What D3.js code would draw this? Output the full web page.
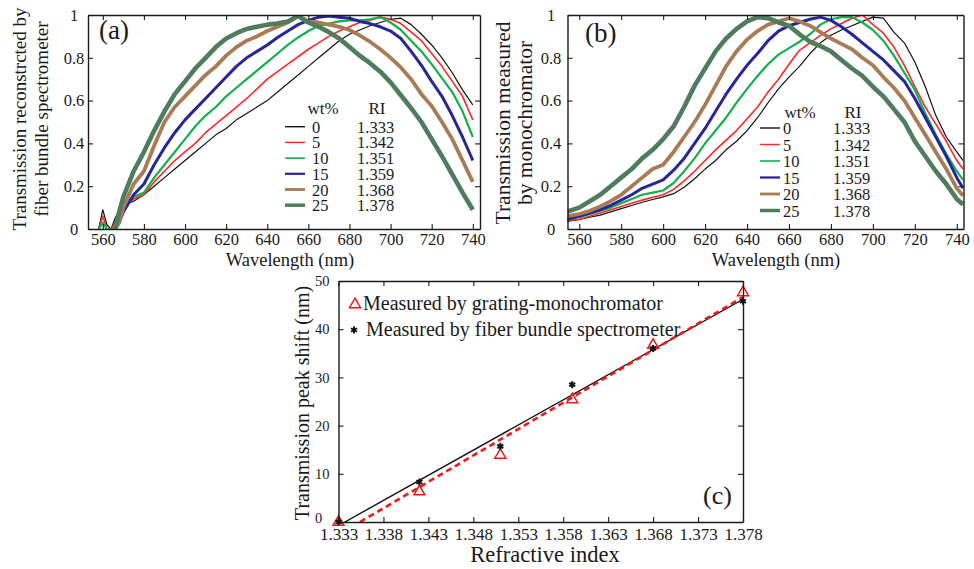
<!DOCTYPE html>
<html>
<head>
<meta charset="utf-8">
<script src="https://cdn.jsdelivr.net/npm/d3@7/dist/d3.min.js"></script>
<style>
  html, body { margin: 0; padding: 0; background: #fff; }
  svg { display: block; }
</style>
</head>
<body>
<svg id="fig" width="974" height="569"></svg>
<script>
// ---------------- data ----------------
// (a) transmission reconstructed by the fiber bundle spectrometer
const wavelengthFiber = [558, 560, 562, 564, 566, 568, 570, 575, 580, 585, 590, 595, 600, 605, 610, 615,
  620, 625, 630, 635, 640, 645, 650, 655, 660, 665, 670, 675, 680, 685, 690, 695, 700, 705, 710, 715,
  720, 725, 730, 735, 740];
const fiber0  = [0, 0.09, 0.02, 0, 0.05, 0.09, 0.11, 0.13, 0.16, 0.20, 0.24, 0.28, 0.32, 0.36, 0.40, 0.44, 0.47,
  0.51, 0.54, 0.57, 0.60, 0.64, 0.68, 0.72, 0.76, 0.80, 0.84, 0.88, 0.91, 0.93, 0.95, 0.965, 0.98, 0.985, 0.955,
  0.91, 0.86, 0.80, 0.73, 0.65, 0.58];
const fiber5  = [0, 0.06, 0, 0, 0.03, 0.07, 0.10, 0.14, 0.16, 0.22, 0.27, 0.32, 0.36, 0.40, 0.45, 0.49, 0.53,
  0.57, 0.61, 0.655, 0.70, 0.735, 0.77, 0.805, 0.84, 0.87, 0.90, 0.925, 0.945, 0.965, 0.975, 0.99, 0.98, 0.96,
  0.92, 0.88, 0.82, 0.76, 0.69, 0.62, 0.51];
const fiber10 = [0, 0.03, 0, 0, 0, 0.04, 0.10, 0.15, 0.17, 0.24, 0.30, 0.36, 0.42, 0.48, 0.53, 0.57, 0.62,
  0.66, 0.70, 0.74, 0.78, 0.82, 0.86, 0.895, 0.925, 0.95, 0.96, 0.97, 0.975, 0.975, 0.98, 0.99, 0.965, 0.93,
  0.88, 0.83, 0.77, 0.705, 0.64, 0.55, 0.43];
const fiber15 = [null, null, null, null, 0, 0.03, 0.08, 0.16, 0.21, 0.30, 0.38, 0.45, 0.51, 0.56, 0.61, 0.66,
  0.71, 0.76, 0.80, 0.83, 0.86, 0.895, 0.925, 0.955, 0.975, 0.99, 0.995, 0.99, 0.985, 0.97, 0.96, 0.945, 0.925,
  0.89, 0.83, 0.765, 0.69, 0.62, 0.53, 0.43, 0.32];
const fiber20 = [null, null, null, null, 0, 0.03, 0.10, 0.21, 0.27, 0.39, 0.50, 0.57, 0.62, 0.67, 0.72, 0.76,
  0.81, 0.85, 0.88, 0.90, 0.925, 0.945, 0.965, 0.995, 0.97, 0.965, 0.955, 0.945, 0.93, 0.905, 0.875, 0.84, 0.80,
  0.755, 0.70, 0.63, 0.575, 0.50, 0.42, 0.32, 0.22];
const fiber25 = [null, null, null, null, 0, 0.08, 0.15, 0.27, 0.36, 0.46, 0.55, 0.63, 0.69, 0.75, 0.80, 0.85,
  0.89, 0.915, 0.935, 0.945, 0.955, 0.96, 0.97, 0.995, 0.965, 0.945, 0.92, 0.89, 0.85, 0.81, 0.775, 0.735, 0.685,
  0.625, 0.565, 0.50, 0.42, 0.34, 0.255, 0.17, 0.09];

// (b) transmission measured by the grating monochromator
const wavelengthMono = [554, 560, 565, 570, 575, 580, 585, 590, 595, 600, 605, 610, 615, 620, 625, 630, 635,
  640, 645, 650, 655, 660, 665, 670, 675, 680, 685, 690, 695, 700, 705, 710, 715, 720, 725, 730, 735, 740, 743];
const mono0  = [0.035, 0.045, 0.055, 0.065, 0.08, 0.095, 0.11, 0.125, 0.138, 0.15, 0.165, 0.195, 0.235, 0.28,
  0.32, 0.37, 0.41, 0.46, 0.52, 0.59, 0.655, 0.71, 0.76, 0.82, 0.87, 0.905, 0.93, 0.95, 0.97, 0.99, 0.985, 0.92,
  0.87, 0.78, 0.665, 0.53, 0.43, 0.36, 0.32];
const mono5  = [0.04, 0.045, 0.06, 0.075, 0.09, 0.105, 0.12, 0.135, 0.148, 0.16, 0.185, 0.225, 0.27, 0.32,
  0.37, 0.415, 0.46, 0.515, 0.57, 0.64, 0.70, 0.77, 0.835, 0.87, 0.905, 0.935, 0.96, 0.985, 1.0, 0.955, 0.915,
  0.85, 0.765, 0.665, 0.57, 0.49, 0.41, 0.32, 0.28];
const mono10 = [0.045, 0.055, 0.07, 0.085, 0.10, 0.12, 0.14, 0.16, 0.17, 0.18, 0.215, 0.27, 0.33, 0.40, 0.46,
  0.52, 0.59, 0.655, 0.715, 0.77, 0.815, 0.845, 0.875, 0.91, 0.955, 0.98, 0.99, 0.99, 0.965, 0.93, 0.88, 0.81,
  0.73, 0.65, 0.54, 0.44, 0.35, 0.27, 0.23];
const mono15 = [0.045, 0.06, 0.075, 0.09, 0.11, 0.135, 0.16, 0.19, 0.21, 0.23, 0.275, 0.33, 0.40, 0.47, 0.55,
  0.63, 0.70, 0.765, 0.82, 0.88, 0.925, 0.95, 0.965, 0.98, 0.99, 0.975, 0.945, 0.91, 0.87, 0.83, 0.79, 0.74,
  0.69, 0.61, 0.52, 0.43, 0.34, 0.24, 0.19];
const mono20 = [0.06, 0.07, 0.085, 0.105, 0.13, 0.16, 0.20, 0.24, 0.28, 0.30, 0.36, 0.43, 0.50, 0.58, 0.67,
  0.76, 0.83, 0.885, 0.925, 0.955, 0.97, 0.985, 0.97, 0.95, 0.92, 0.89, 0.865, 0.84, 0.80, 0.765, 0.71, 0.66,
  0.60, 0.52, 0.44, 0.36, 0.28, 0.19, 0.155];
const mono25 = [0.08, 0.10, 0.13, 0.16, 0.20, 0.24, 0.28, 0.33, 0.37, 0.42, 0.48, 0.57, 0.67, 0.75, 0.83,
  0.89, 0.935, 0.97, 0.99, 0.985, 0.965, 0.95, 0.91, 0.875, 0.855, 0.83, 0.79, 0.75, 0.715, 0.665, 0.62, 0.56,
  0.50, 0.41, 0.34, 0.27, 0.21, 0.14, 0.115];

// legend entries shared by (a) and (b)
const sugarWt = ["0", "5", "10", "15", "20", "25"];
const riLabels = ["1.333", "1.342", "1.351", "1.359", "1.368", "1.378"];

// (c) peak shift versus refractive index
const refractiveIndex = [1.333, 1.342, 1.351, 1.359, 1.368, 1.378];
const shiftMono  = [0, 6.3, 13.9, 25.4, 36.7, 47.6];
const shiftFiber = [0, 8.3, 15.7, 28.5, 36.0, 45.8];

// tick labels
const wlTicks = [560, 580, 600, 620, 640, 660, 680, 700, 720, 740];
const transTicks = [0, 0.2, 0.4, 0.6, 0.8, 1];
const riTicks = [1.333, 1.338, 1.343, 1.348, 1.353, 1.358, 1.363, 1.368, 1.373, 1.378];
const shiftTicks = [0, 10, 20, 30, 40, 50];

// ---------------- drawing ----------------
const SERIF = "'Liberation Serif', 'Times New Roman', 'DejaVu Serif', serif";
const INK = "#1a1a1a";
const svg = d3.select("#fig");

const curveColors = ["#111111", "#ff2626", "#14b04e", "#25259c", "#a97b55", "#4e7c5d"];
const curveWidths = [1.2, 1.6, 2.2, 3.0, 3.8, 4.6];

const boxA = {left: 88, right: 480, top: 15, bottom: 229};
const boxB = {left: 567.5, right: 963.5, top: 15, bottom: 229};
const boxC = {left: 338.5, right: 743, top: 281, bottom: 522};

function addClip(id, p) {
  svg.append("clipPath").attr("id", id).append("rect")
    .attr("x", p.left).attr("y", p.top)
    .attr("width", p.right - p.left).attr("height", p.bottom - p.top);
}

function drawAxes(p, x, y, o) {
  const g = svg.append("g");
  const tk = o.tick;
  const bottom = g.append("g").attr("transform", `translate(0,${p.bottom})`)
    .call(d3.axisBottom(x).tickValues(o.xTicks).tickFormat(o.xFormat)
      .tickSizeInner(-tk).tickSizeOuter(0).tickPadding(o.xPad));
  bottom.attr("font-size", o.xFont).attr("font-family", SERIF);
  g.append("g").attr("transform", `translate(0,${p.top})`)
    .call(d3.axisTop(x).tickValues(o.xTicks).tickFormat(() => "")
      .tickSizeInner(-tk).tickSizeOuter(0));
  const left = g.append("g").attr("transform", `translate(${p.left},0)`)
    .call(d3.axisLeft(y).tickValues(o.yTicks).tickFormat(o.yFormat)
      .tickSizeInner(-tk).tickSizeOuter(0));
  left.attr("font-size", o.yFont).attr("font-family", SERIF);
  left.selectAll(".tick text").attr("text-anchor", o.yAnchor).attr("x", o.yLabelX - p.left);
  g.append("g").attr("transform", `translate(${p.right},0)`)
    .call(d3.axisRight(y).tickValues(o.yTicks).tickFormat(() => "")
      .tickSizeInner(-tk).tickSizeOuter(0));
  g.selectAll(".domain").attr("stroke", INK).attr("stroke-width", 1.4);
  g.selectAll(".tick line").attr("stroke", INK).attr("stroke-width", 1.1);
  g.selectAll(".tick text").attr("fill", INK);
  return {bottom, left};
}

function label(x, y, txt, size, anchor, rotate) {
  const t = svg.append("text")
    .attr("font-family", SERIF).attr("font-size", size).attr("fill", INK)
    .attr("text-anchor", anchor || "middle").text(txt);
  if (rotate) {
    t.attr("transform", `translate(${x},${y}) rotate(-90)`).attr("dy", "0.35em");
  } else {
    t.attr("x", x).attr("y", y);
  }
  return t;
}

function spectrumPanel(p, clipId, wl, series, domainX, leg) {
  addClip(clipId, p);
  const x = d3.scaleLinear().domain(domainX).range([p.left, p.right]);
  const y = d3.scaleLinear().domain([0, 1]).range([p.bottom, p.top]);
  const line = d3.line()
    .defined(d => d[1] !== null)
    .x(d => x(d[0])).y(d => y(d[1]));
  const g = svg.append("g").attr("clip-path", `url(#${clipId})`);
  series.forEach((vals, i) => {
    g.append("path")
      .datum(wl.map((w, k) => [w, vals[k]]))
      .attr("d", line)
      .attr("fill", "none")
      .attr("stroke", curveColors[i])
      .attr("stroke-width", curveWidths[i])
      .attr("stroke-linejoin", "round");
  });
  drawAxes(p, x, y, {
    tick: 5, xTicks: wlTicks, xFormat: d => String(d), xPad: 4.5, xFont: 16.5,
    yTicks: transTicks, yFormat: d => String(d), yFont: 16.5,
    yAnchor: "middle", yLabelX: leg.yLabelX
  });

  // legend: wt% / RI table
  const lg = svg.append("g").attr("font-family", SERIF).attr("fill", INK);
  lg.append("text").attr("x", leg.wtX).attr("y", leg.headY).attr("text-anchor", "middle")
    .attr("font-size", 17).text("wt%");
  lg.append("text").attr("x", leg.riX).attr("y", leg.headY).attr("text-anchor", "middle")
    .attr("font-size", 17).text("RI");
  sugarWt.forEach((wt, i) => {
    const ly = leg.rowY + i * leg.step;
    lg.append("line").attr("x1", leg.lineX0).attr("x2", leg.lineX1)
      .attr("y1", ly).attr("y2", ly)
      .attr("stroke", curveColors[i]).attr("stroke-width", Math.max(1.4, curveWidths[i] * 0.75));
    lg.append("text").attr("x", leg.numX).attr("y", ly + 6).attr("font-size", 16.5).text(wt);
    lg.append("text").attr("x", leg.riTextX).attr("y", ly + 6).attr("font-size", 16.5).text(riLabels[i]);
  });
}

// panel (a)
spectrumPanel(boxA, "clipA", wavelengthFiber,
  [fiber0, fiber5, fiber10, fiber15, fiber20, fiber25], [552.8, 743.5],
  {yLabelX: 74, wtX: 323, riX: 377, headY: 113.5, rowY: 126.7, step: 15.7,
   lineX0: 285, lineX1: 305, numX: 312, riTextX: 357});
label(99, 39, "(a)", 27, "start");
label(290, 266, "Wavelength (nm)", 18.5);
label(19, 119, "Transmission reconstrcted by", 19, "middle", true);
label(41.5, 119, "fiber bundle spectrometer", 19, "middle", true);

// panel (b)
spectrumPanel(boxB, "clipB", wavelengthMono,
  [mono0, mono5, mono10, mono15, mono20, mono25], [554.4, 743.2],
  {yLabelX: 551, wtX: 800, riX: 853, headY: 117.5, rowY: 128, step: 16.5,
   lineX0: 760, lineX1: 780, numX: 783, riTextX: 833});
label(585, 42, "(b)", 27, "start");
label(776, 266, "Wavelength (nm)", 18.5);
label(502, 123, "Transmission measured", 21.5, "middle", true);
label(524, 123, "by monochromator", 21.5, "middle", true);

// panel (c)
(function () {
  const p = boxC;
  addClip("clipC", p);
  const x = d3.scaleLinear().domain([1.333, 1.378]).range([p.left, p.right]);
  const y = d3.scaleLinear().domain([0, 50]).range([p.bottom, p.top]);

  // least-squares straight line through each measurement set
  function linearFit(xs, ys) {
    const mx = d3.mean(xs), my = d3.mean(ys);
    let sxy = 0, sxx = 0;
    xs.forEach((v, i) => { sxy += (v - mx) * (ys[i] - my); sxx += (v - mx) * (v - mx); });
    const slope = sxy / sxx;
    return {slope, intercept: my - slope * mx};
  }
  // segment from the zero crossing of the fit up to the last index
  function fitSegment(f) {
    const x0 = -f.intercept / f.slope, x1 = 1.378;
    return [[x0, 0], [x1, f.slope * x1 + f.intercept]];
  }
  const fitFiber = linearFit(refractiveIndex, shiftFiber);
  const fitMono = linearFit(refractiveIndex, shiftMono);
  const line = d3.line().x(d => x(d[0])).y(d => y(d[1]));
  const g = svg.append("g").attr("clip-path", "url(#clipC)");
  g.append("path").attr("d", line(fitSegment(fitFiber)))
    .attr("fill", "none").attr("stroke", "#111").attr("stroke-width", 1.4);
  g.append("path").attr("d", line(fitSegment(fitMono)))
    .attr("fill", "none").attr("stroke", "#f01818").attr("stroke-width", 2.6)
    .attr("stroke-dasharray", "6,4");

  const tri = d3.symbol().type(d3.symbolTriangle).size(52);
  const star = d3.symbol().type(d3.symbolAsterisk).size(34);
  svg.append("g").selectAll("path").data(refractiveIndex).join("path")
    .attr("transform", (d, i) => `translate(${x(d)},${y(shiftMono[i])})`)
    .attr("d", tri).attr("fill", "none").attr("stroke", "#f01818").attr("stroke-width", 1.5);
  svg.append("g").selectAll("path").data(refractiveIndex).join("path")
    .attr("transform", (d, i) => `translate(${x(d)},${y(shiftFiber[i])})`)
    .attr("d", star).attr("fill", "none").attr("stroke", "#111").attr("stroke-width", 2);

  const axes = drawAxes(p, x, y, {
    tick: 5, xTicks: riTicks, xFormat: d3.format(".3f"), xPad: 5.5, xFont: 17,
    yTicks: shiftTicks, yFormat: d => String(d), yFont: 14.5,
    yAnchor: "start", yLabelX: 315
  });
  // the zero label sits in the corner just above the first index label
  axes.left.selectAll(".tick text").filter(d => d === 0).attr("dy", "0.05em");

  // legend
  svg.append("path").attr("transform", "translate(355,304.5)").attr("d", tri)
    .attr("fill", "none").attr("stroke", "#f01818").attr("stroke-width", 1.5);
  label(363, 309.5, "Measured by grating-monochromator", 20, "start");
  svg.append("path").attr("transform", "translate(354,330)").attr("d", star)
    .attr("fill", "none").attr("stroke", "#111").attr("stroke-width", 2);
  label(366, 336, "Measured by fiber bundle spectrometer", 20, "start");

  label(703, 503.5, "(c)", 26, "start");
  label(545, 562, "Refractive index", 22.5);
  label(302, 403, "Transmission peak shift (nm)", 20, "middle", true);
})();
</script>
</body>
</html>
